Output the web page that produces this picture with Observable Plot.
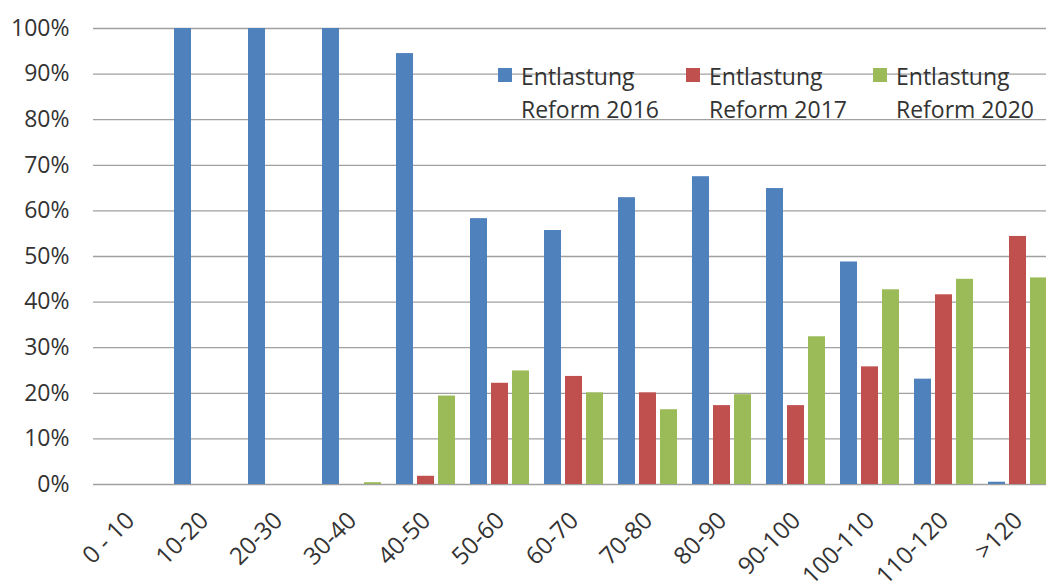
<!DOCTYPE html>
<html><head><meta charset="utf-8">
<script src="https://cdn.jsdelivr.net/npm/d3@7"></script>
<script src="https://cdn.jsdelivr.net/npm/@observablehq/plot@0.6"></script>
<style>
html,body{margin:0;padding:0;background:#fff;overflow:hidden;}
#wrap{position:relative;width:1046px;height:581px;overflow:hidden;}
#wrap svg{max-width:none !important;}
#legend{position:absolute;left:498px;top:60px;display:flex;font-family:"Open Sans",sans-serif;font-size:23px;color:#333;line-height:33px;}
.item{display:flex;align-items:flex-start;}
.sw{width:14px;height:14px;margin-top:8px;margin-right:9px;}
</style>
</head><body>
<div id="wrap"></div>
<script>
const categories = ["0 - 10","10-20","20-30","30-40","40-50","50-60","60-70","70-80","80-90","90-100","100-110","110-120",">120"];
const seriesNames = ["Entlastung Reform 2016","Entlastung Reform 2017","Entlastung Reform 2020"];
const legendLines = [["Entlastung","Reform 2016"],["Entlastung","Reform 2017"],["Entlastung","Reform 2020"]];
const reform2016 = [0,100,100,100,94.5,58.3,55.7,62.9,67.5,64.9,48.8,23.1,0.5];
const reform2017 = [0,0,0,0,1.8,22.2,23.7,20.1,17.3,17.3,25.8,41.6,54.4];
const reform2020 = [0,0,0,0.4,19.4,24.9,20.1,16.4,19.7,32.4,42.7,45.0,45.3];
const colors = ["#4F81BD","#C0504D","#9BBB59"];
const yTicks = [0,10,20,30,40,50,60,70,80,90,100];

const seriesValues = [reform2016, reform2017, reform2020];
const data = categories.flatMap((c,i) => seriesValues.map((arr,j) => ({category:c, series:seriesNames[j], value:arr[i]})));

const chart = Plot.plot({
  width: 1060, height: 600,
  marginLeft: 93, marginRight: 5, marginTop: 28, marginBottom: 116,
  style: {fontFamily: "'Open Sans', sans-serif", fontSize: "22px", color: "#333", background: "#fff", overflow: "visible", maxWidth: "none"},
  fx: {domain: categories, paddingInner: 0, paddingOuter: 0, label: null},
  x: {domain: seriesNames, paddingInner: 0.186, paddingOuter: 0.314, axis: null},
  y: {domain: [0,100], label: null},
  color: {domain: seriesNames, range: colors},
  marks: [
    Plot.gridY(yTicks, {stroke: "#a0a0a0", strokeOpacity: 1, strokeWidth: 1.3}),
    Plot.barY(data, {fx: "category", x: "series", y: "value", fill: "series"}),
    Plot.axisY(yTicks, {tickSize: 0, tickPadding: 24, tickFormat: d => d + "%", label: null, fontSize: 23}),
    Plot.axisFx({anchor: "bottom", tickRotate: -45, tickSize: 0, tickPadding: 32, dx: 0, label: null, fontSize: 24})
  ]
});
const wrap = document.getElementById("wrap");
wrap.appendChild(chart);
const legend = document.createElement("div");
legend.id = "legend";
legendLines.forEach((lines,i) => {
  const it = document.createElement("div");
  it.className = "item";
  it.style.width = i === 0 ? "188px" : (i === 1 ? "187px" : "auto");
  const sw = document.createElement("div");
  sw.className = "sw"; sw.style.background = colors[i];
  const tx = document.createElement("div");
  tx.innerHTML = lines.join("<br>");
  it.appendChild(sw); it.appendChild(tx);
  legend.appendChild(it);
});
wrap.appendChild(legend);
</script>
</body></html>
